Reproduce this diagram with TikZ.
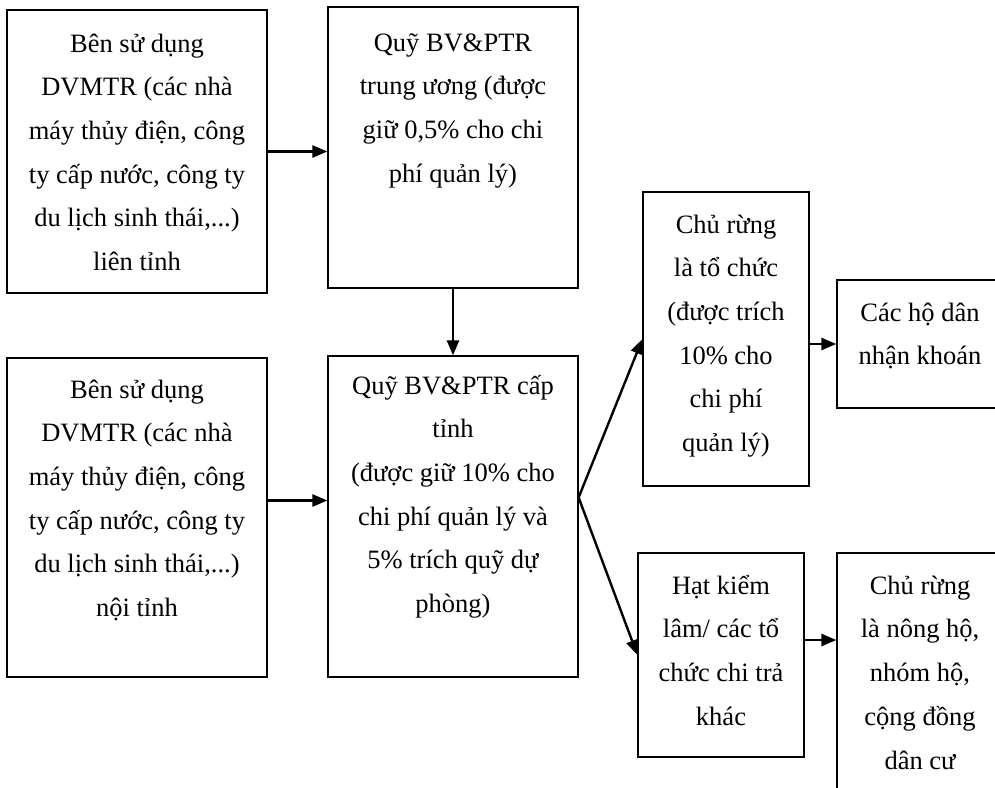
\documentclass[tikz,border=0pt]{standalone}
\usepackage{fontspec}
\setmainfont{Liberation Serif}
\usetikzlibrary{arrows.meta,positioning}

\begin{document}
\begin{tikzpicture}[x=1pt, y=-1pt,
    box/.style={draw, line width=1.2pt, rectangle, inner sep=0pt},
    txt/.style={inner sep=0pt, align=center, font=\fontsize{26.5}{43.7}\selectfont},
    arr/.style={-{Triangle[length=15pt, width=12pt]}, line width=2.4pt}]
    \useasboundingbox (0,0) rectangle (995,787);
    \clip (0,0) rectangle (995,787);

    % Ben su dung lien tinh
    \node[box, minimum width=260pt, minimum height=283pt] (a) at (137,151.5) {};
    \node[txt, below=12pt of a.north] (atext) {\strut Bên sử dụng\\DVMTR (các nhà\\máy thủy điện, công\\ty cấp nước, công ty\\du lịch sinh thái,...)\\liên tỉnh};

    % Quy trung uong
    \node[box, minimum width=250pt, minimum height=281pt] (b) at (453,147.5) {};
    \node[txt, below=14pt of b.north] (btext) {\strut Quỹ BV\&PTR\\trung ương (được\\giữ 0,5\% cho chi\\phí quản lý)};

    % Ben su dung noi tinh
    \node[box, minimum width=260pt, minimum height=319pt] (c) at (137,517.5) {};
    \node[txt, below=10pt of c.north] (ctext) {\strut Bên sử dụng\\DVMTR (các nhà\\máy thủy điện, công\\ty cấp nước, công ty\\du lịch sinh thái,...)\\nội tỉnh};

    % Quy cap tinh
    \node[box, minimum width=250pt, minimum height=321pt] (d) at (453,516.5) {};
    \node[txt, below=8pt of d.north] (dtext) {\strut Quỹ BV\&PTR cấp\\tỉnh\\(được giữ 10\% cho\\chi phí quản lý và\\5\% trích quỹ dự\\phòng)};

    % Chu rung la to chuc
    \node[box, minimum width=166pt, minimum height=294pt] (e) at (726,339) {};
    \node[txt, below=11pt of e.north] (etext) {\strut Chủ rừng\\là tổ chức\\(được trích\\10\% cho\\chi phí\\quản lý)};

    % Cac ho dan
    \node[box, minimum width=166pt, minimum height=128pt] (f) at (920,344) {};
    \node[txt, below=11pt of f.north] (ftext) {\strut Các hộ dân\\nhận khoán};

    % Hat kiem lam
    \node[box, minimum width=166pt, minimum height=204pt] (g) at (721,655) {};
    \node[txt, below=11pt of g.north] (gtext) {\strut Hạt kiểm\\lâm/ các tổ\\chức chi trả\\khác};

    % Chu rung la nong ho
    \node[box, minimum width=166pt, minimum height=277pt] (h) at (920,691.5) {};
    \node[txt, below=11pt of h.north] (htext) {\strut Chủ rừng\\là nông hộ,\\nhóm hộ,\\cộng đồng\\dân cư};

    % arrows
    \draw[arr] (a.east) -- (a.east -| b.west);
    \draw[arr] ([yshift=17pt]c.east) -- ([yshift=17pt]c.east -| d.west);
    \draw[arr] (b.south) -- (d.north);
    \coordinate (fork) at ([yshift=19pt]d.east);
    \draw[arr] (fork) -- (e.west);
    \draw[arr] (fork) -- (g.west);
    \draw[arr] (e.east |- f.west) -- (f.west);
    \draw[arr] ([yshift=15pt]g.east) -- ([yshift=15pt]g.east -| h.west);
\end{tikzpicture}
\end{document}
